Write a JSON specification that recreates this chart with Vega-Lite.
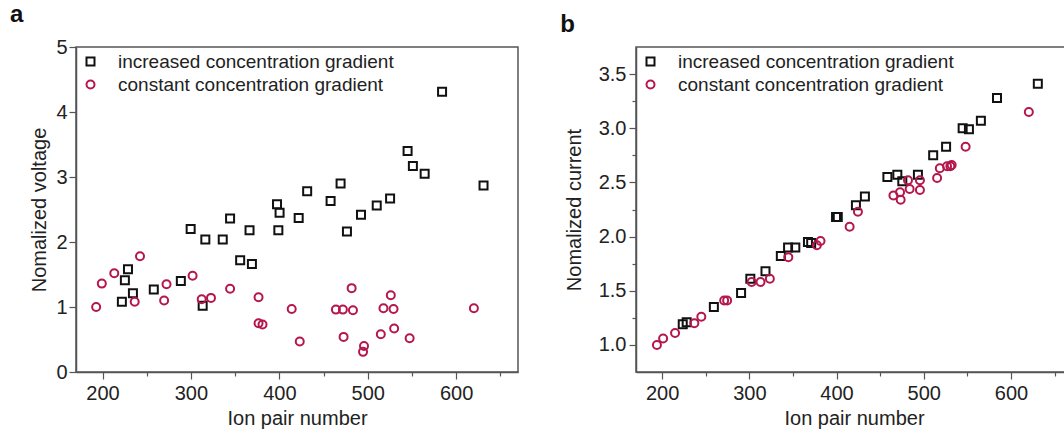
{
  "$schema": "https://vega.github.io/schema/vega-lite/v6.json",
  "padding": {"left": 9, "top": 2, "right": 0, "bottom": 0},
  "background": "white",
  "config": {
    "font": "Liberation Sans",
    "view": {"stroke": "#555555", "strokeWidth": 1.5},
    "axis": {
      "grid": false,
      "domainColor": "#555555",
      "domainWidth": 1.5,
      "tickColor": "#555555",
      "tickWidth": 1.2,
      "labelColor": "#222222",
      "titleColor": "#222222",
      "labelFontSize": 20,
      "titleFontSize": 20,
      "titleFontWeight": "normal"
    },
    "legend": {"labelFontSize": 19, "labelColor": "#222222", "labelLimit": 0, "symbolStrokeWidth": 2, "symbolSize": 64, "rowPadding": 3, "labelOffset": 18, "padding": 0, "offset": 5}
  },
  "datasets": {
    "a": [
      {"x": 221.9, "y": 1.08, "series": "increased concentration gradient"},
      {"x": 225.3, "y": 1.41, "series": "increased concentration gradient"},
      {"x": 228.8, "y": 1.58, "series": "increased concentration gradient"},
      {"x": 234.4, "y": 1.21, "series": "increased concentration gradient"},
      {"x": 258, "y": 1.27, "series": "increased concentration gradient"},
      {"x": 288.6, "y": 1.40, "series": "increased concentration gradient"},
      {"x": 299.7, "y": 2.20, "series": "increased concentration gradient"},
      {"x": 313.3, "y": 1.02, "series": "increased concentration gradient"},
      {"x": 316.3, "y": 2.04, "series": "increased concentration gradient"},
      {"x": 336, "y": 2.04, "series": "increased concentration gradient"},
      {"x": 344.3, "y": 2.36, "series": "increased concentration gradient"},
      {"x": 355.7, "y": 1.72, "series": "increased concentration gradient"},
      {"x": 366.3, "y": 2.18, "series": "increased concentration gradient"},
      {"x": 369, "y": 1.66, "series": "increased concentration gradient"},
      {"x": 397.4, "y": 2.58, "series": "increased concentration gradient"},
      {"x": 400.3, "y": 2.45, "series": "increased concentration gradient"},
      {"x": 398.9, "y": 2.18, "series": "increased concentration gradient"},
      {"x": 421.9, "y": 2.37, "series": "increased concentration gradient"},
      {"x": 431.5, "y": 2.78, "series": "increased concentration gradient"},
      {"x": 458, "y": 2.63, "series": "increased concentration gradient"},
      {"x": 469.3, "y": 2.90, "series": "increased concentration gradient"},
      {"x": 476.5, "y": 2.16, "series": "increased concentration gradient"},
      {"x": 492.4, "y": 2.42, "series": "increased concentration gradient"},
      {"x": 510.2, "y": 2.56, "series": "increased concentration gradient"},
      {"x": 525.3, "y": 2.67, "series": "increased concentration gradient"},
      {"x": 545.1, "y": 3.40, "series": "increased concentration gradient"},
      {"x": 551.1, "y": 3.17, "series": "increased concentration gradient"},
      {"x": 564.4, "y": 3.05, "series": "increased concentration gradient"},
      {"x": 584.1, "y": 4.31, "series": "increased concentration gradient"},
      {"x": 631, "y": 2.87, "series": "increased concentration gradient"},
      {"x": 192.8, "y": 1.00, "series": "constant concentration gradient"},
      {"x": 199.2, "y": 1.36, "series": "constant concentration gradient"},
      {"x": 213.3, "y": 1.52, "series": "constant concentration gradient"},
      {"x": 236.4, "y": 1.08, "series": "constant concentration gradient"},
      {"x": 242.4, "y": 1.78, "series": "constant concentration gradient"},
      {"x": 269.7, "y": 1.10, "series": "constant concentration gradient"},
      {"x": 272.4, "y": 1.35, "series": "constant concentration gradient"},
      {"x": 301.9, "y": 1.48, "series": "constant concentration gradient"},
      {"x": 312.2, "y": 1.12, "series": "constant concentration gradient"},
      {"x": 322.7, "y": 1.14, "series": "constant concentration gradient"},
      {"x": 344.3, "y": 1.28, "series": "constant concentration gradient"},
      {"x": 376.5, "y": 1.15, "series": "constant concentration gradient"},
      {"x": 376.5, "y": 0.75, "series": "constant concentration gradient"},
      {"x": 381, "y": 0.73, "series": "constant concentration gradient"},
      {"x": 414, "y": 0.97, "series": "constant concentration gradient"},
      {"x": 423.1, "y": 0.47, "series": "constant concentration gradient"},
      {"x": 464, "y": 0.96, "series": "constant concentration gradient"},
      {"x": 471.9, "y": 0.96, "series": "constant concentration gradient"},
      {"x": 472.7, "y": 0.54, "series": "constant concentration gradient"},
      {"x": 481.8, "y": 1.29, "series": "constant concentration gradient"},
      {"x": 483.3, "y": 0.95, "series": "constant concentration gradient"},
      {"x": 495.8, "y": 0.40, "series": "constant concentration gradient"},
      {"x": 494.7, "y": 0.31, "series": "constant concentration gradient"},
      {"x": 514.8, "y": 0.58, "series": "constant concentration gradient"},
      {"x": 517.8, "y": 0.98, "series": "constant concentration gradient"},
      {"x": 526.1, "y": 1.18, "series": "constant concentration gradient"},
      {"x": 529.2, "y": 0.97, "series": "constant concentration gradient"},
      {"x": 529.9, "y": 0.67, "series": "constant concentration gradient"},
      {"x": 547.4, "y": 0.52, "series": "constant concentration gradient"},
      {"x": 620.1, "y": 0.98, "series": "constant concentration gradient"}
    ],
    "b": [
      {"x": 223.6, "y": 1.19, "series": "increased concentration gradient"},
      {"x": 228.1, "y": 1.21, "series": "increased concentration gradient"},
      {"x": 259.3, "y": 1.35, "series": "increased concentration gradient"},
      {"x": 290.5, "y": 1.48, "series": "increased concentration gradient"},
      {"x": 301.1, "y": 1.61, "series": "increased concentration gradient"},
      {"x": 318.5, "y": 1.68, "series": "increased concentration gradient"},
      {"x": 336.1, "y": 1.82, "series": "increased concentration gradient"},
      {"x": 344.4, "y": 1.90, "series": "increased concentration gradient"},
      {"x": 352.7, "y": 1.90, "series": "increased concentration gradient"},
      {"x": 367.2, "y": 1.95, "series": "increased concentration gradient"},
      {"x": 370.9, "y": 1.94, "series": "increased concentration gradient"},
      {"x": 399.4, "y": 2.18, "series": "increased concentration gradient"},
      {"x": 401.4, "y": 2.18, "series": "increased concentration gradient"},
      {"x": 422.2, "y": 2.29, "series": "increased concentration gradient"},
      {"x": 432.5, "y": 2.37, "series": "increased concentration gradient"},
      {"x": 458.3, "y": 2.55, "series": "increased concentration gradient"},
      {"x": 469.7, "y": 2.57, "series": "increased concentration gradient"},
      {"x": 475.4, "y": 2.51, "series": "increased concentration gradient"},
      {"x": 493.3, "y": 2.57, "series": "increased concentration gradient"},
      {"x": 510.8, "y": 2.75, "series": "increased concentration gradient"},
      {"x": 525.6, "y": 2.83, "series": "increased concentration gradient"},
      {"x": 544.6, "y": 3.00, "series": "increased concentration gradient"},
      {"x": 551.8, "y": 2.99, "series": "increased concentration gradient"},
      {"x": 565.5, "y": 3.07, "series": "increased concentration gradient"},
      {"x": 584, "y": 3.28, "series": "increased concentration gradient"},
      {"x": 630.8, "y": 3.41, "series": "increased concentration gradient"},
      {"x": 194, "y": 1.00, "series": "constant concentration gradient"},
      {"x": 201.1, "y": 1.06, "series": "constant concentration gradient"},
      {"x": 214.8, "y": 1.11, "series": "constant concentration gradient"},
      {"x": 236.9, "y": 1.20, "series": "constant concentration gradient"},
      {"x": 244.9, "y": 1.26, "series": "constant concentration gradient"},
      {"x": 271.1, "y": 1.41, "series": "constant concentration gradient"},
      {"x": 274.5, "y": 1.41, "series": "constant concentration gradient"},
      {"x": 302.6, "y": 1.58, "series": "constant concentration gradient"},
      {"x": 312.8, "y": 1.58, "series": "constant concentration gradient"},
      {"x": 323.5, "y": 1.61, "series": "constant concentration gradient"},
      {"x": 344.7, "y": 1.81, "series": "constant concentration gradient"},
      {"x": 377.4, "y": 1.92, "series": "constant concentration gradient"},
      {"x": 381.6, "y": 1.96, "series": "constant concentration gradient"},
      {"x": 415, "y": 2.09, "series": "constant concentration gradient"},
      {"x": 424.5, "y": 2.23, "series": "constant concentration gradient"},
      {"x": 465.2, "y": 2.38, "series": "constant concentration gradient"},
      {"x": 472.8, "y": 2.41, "series": "constant concentration gradient"},
      {"x": 473.5, "y": 2.34, "series": "constant concentration gradient"},
      {"x": 481.9, "y": 2.52, "series": "constant concentration gradient"},
      {"x": 483.8, "y": 2.44, "series": "constant concentration gradient"},
      {"x": 495.6, "y": 2.52, "series": "constant concentration gradient"},
      {"x": 495.6, "y": 2.43, "series": "constant concentration gradient"},
      {"x": 515.3, "y": 2.54, "series": "constant concentration gradient"},
      {"x": 518.4, "y": 2.63, "series": "constant concentration gradient"},
      {"x": 526.7, "y": 2.65, "series": "constant concentration gradient"},
      {"x": 530.5, "y": 2.65, "series": "constant concentration gradient"},
      {"x": 532, "y": 2.66, "series": "constant concentration gradient"},
      {"x": 548, "y": 2.83, "series": "constant concentration gradient"},
      {"x": 620.5, "y": 3.15, "series": "constant concentration gradient"}
    ]
  },
  "resolve": {
    "scale": {"color": "independent", "shape": "independent"},
    "legend": {"color": "independent", "shape": "independent"}
  },
  "spacing": 40,
  "hconcat": [
    {
      "title": {"text": "a", "anchor": "start", "frame": "bounds", "fontSize": 24, "fontWeight": "bold", "color": "#111111", "dx": -20, "offset": 10},
      "width": 442,
      "height": 325,
      "data": {"name": "a"},
      "mark": {"type": "point", "filled": false, "strokeWidth": 2, "size": 64, "opacity": 1},
      "encoding": {
        "x": {
          "field": "x", "type": "quantitative",
          "scale": {"domain": [170, 670], "nice": false, "zero": false},
          "axis": {
            "title": "Ion pair number",
            "values": [200, 250, 300, 350, 400, 450, 500, 550, 600, 650],
            "labelExpr": "datum.value % 100 === 0 ? datum.label : ''",
            "tickSize": {"condition": {"test": "datum.value % 100 === 0", "value": 7}, "value": 4},
            "labelPadding": 4,
            "titlePadding": 5
          }
        },
        "y": {
          "field": "y", "type": "quantitative",
          "scale": {"domain": [0, 5], "nice": false},
          "axis": {
            "title": "Nomalized voltage",
            "values": [0, 0.5, 1, 1.5, 2, 2.5, 3, 3.5, 4, 4.5, 5],
            "format": "d",
            "labelExpr": "datum.value % 1 === 0 ? datum.label : ''",
            "tickSize": {"condition": {"test": "datum.value % 1 === 0", "value": 7}, "value": 4},
            "labelPadding": 2,
            "titlePadding": 6
          }
        },
        "color": {
          "field": "series", "type": "nominal",
          "scale": {"domain": ["increased concentration gradient", "constant concentration gradient"], "range": ["#111111", "#b5164b"]},
          "legend": {"title": null, "orient": "top-left"}
        },
        "shape": {
          "field": "series", "type": "nominal",
          "scale": {"domain": ["increased concentration gradient", "constant concentration gradient"], "range": ["square", "circle"]},
          "legend": {"title": null, "orient": "top-left"}
        }
      }
    },
    {
      "title": {"text": "b", "anchor": "start", "frame": "bounds", "fontSize": 24, "fontWeight": "bold", "color": "#111111", "dx": -4, "offset": 10},
      "width": 436,
      "height": 325,
      "data": {"name": "b"},
      "mark": {"type": "point", "filled": false, "strokeWidth": 2, "size": 64, "opacity": 1},
      "encoding": {
        "x": {
          "field": "x", "type": "quantitative",
          "scale": {"domain": [170, 670], "nice": false, "zero": false},
          "axis": {
            "title": "Ion pair number",
            "values": [200, 250, 300, 350, 400, 450, 500, 550, 600, 650],
            "labelExpr": "datum.value % 100 === 0 ? datum.label : ''",
            "tickSize": {"condition": {"test": "datum.value % 100 === 0", "value": 7}, "value": 4},
            "labelPadding": 4,
            "titlePadding": 5
          }
        },
        "y": {
          "field": "y", "type": "quantitative",
          "scale": {"domain": [0.75, 3.75], "nice": false, "zero": false},
          "axis": {
            "title": "Nomalized current",
            "values": [1, 1.25, 1.5, 1.75, 2, 2.25, 2.5, 2.75, 3, 3.25, 3.5],
            "format": ".1f",
            "labelExpr": "(datum.value * 2) % 1 === 0 ? datum.label : ''",
            "tickSize": {"condition": {"test": "(datum.value * 2) % 1 === 0", "value": 7}, "value": 4},
            "labelPadding": 3,
            "titlePadding": 14
          }
        },
        "color": {
          "field": "series", "type": "nominal",
          "scale": {"domain": ["increased concentration gradient", "constant concentration gradient"], "range": ["#111111", "#b5164b"]},
          "legend": {"title": null, "orient": "top-left"}
        },
        "shape": {
          "field": "series", "type": "nominal",
          "scale": {"domain": ["increased concentration gradient", "constant concentration gradient"], "range": ["square", "circle"]},
          "legend": {"title": null, "orient": "top-left"}
        }
      }
    }
  ]
}
